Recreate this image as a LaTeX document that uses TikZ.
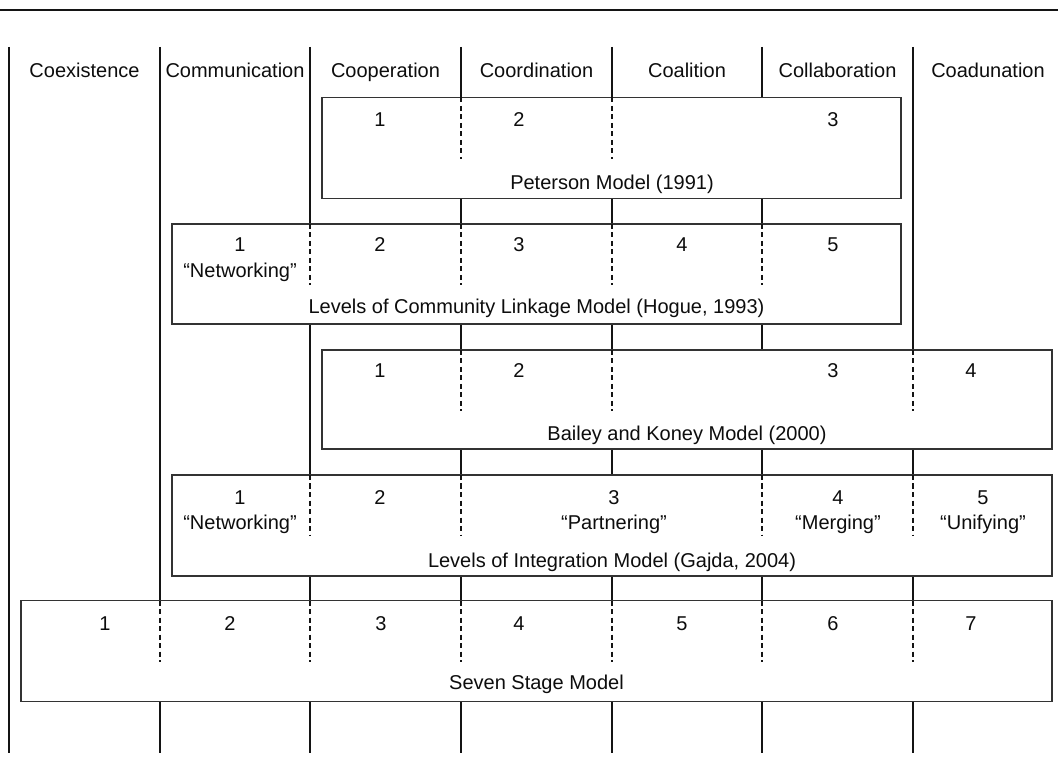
\documentclass[tikz,border=0pt]{standalone}
\usepackage{fontspec}
\setmainfont{Liberation Sans}
\begin{document}
\begin{tikzpicture}[x=1pt,y=-1pt,
  ink/.style={color=black!92},
  colline/.style={ink,draw,line width=2.6pt},
  topline/.style={ink,draw,line width=1.6pt},
  box/.style={draw=black!80,fill=white,line width=1.4pt,inner sep=0pt,outer sep=0pt,anchor=north west},
  divider/.style={ink,draw,line width=2.6pt,dash pattern=on 5pt off 3.5pt},
  lbl/.style={text=black!95,font=\fontsize{20}{22}\selectfont,anchor=base,inner sep=0pt}]
\useasboundingbox (0,0) rectangle (1058,783);
% column positions
\coordinate (c1) at (9,47);
\coordinate (c2) at (160,47);
\coordinate (c3) at (310,47);
\coordinate (c4) at (461,47);
\coordinate (c5) at (612,47);
\coordinate (c6) at (762,47);
\coordinate (c7) at (913,47);
\coordinate (bot) at (0,753);
\coordinate (tl) at (0,10);
\coordinate (tr) at (1058,10);
\draw[topline] (tl) -- (tr);
\foreach \c in {c1,c2,c3,c4,c5,c6,c7} \draw[colline] (\c) -- (\c |- bot);
% headers
\node[lbl] (h1) at (84.5,77.5) {Coexistence};
\node[lbl] (h2) at (235,77.5) {Communication};
\node[lbl] (h3) at (385.5,77.5) {Cooperation};
\node[lbl] (h4) at (536.5,77.5) {Coordination};
\node[lbl] (h5) at (687,77.5) {Coalition};
\node[lbl] (h6) at (837.5,77.5) {Collaboration};
\node[lbl] (h7) at (988,77.5) {Coadunation};
% Peterson
\node[box,minimum width=579pt,minimum height=101pt] (pet) at (322,97.5) {};
\draw[divider] (c4 |- pet.north) -- ++(0,62);
\draw[divider] (c5 |- pet.north) -- ++(0,62);
\node[lbl] (p1) at (380,127) {1};
\node[lbl] (p2) at (519,127) {2};
\node[lbl] (p3) at (833,127) {3};
\node[lbl] (pl) at (612,190) {Peterson Model (1991)};
% Hogue
\node[box,minimum width=729pt,minimum height=100pt] (hog) at (172,224) {};
\foreach \c in {c3,c4,c5,c6} \draw[divider] (\c |- hog.north) -- ++(0,61);
\node[lbl] (g1) at (240,252) {1};
\node[lbl] (g1b) at (240,278) {“Networking”};
\node[lbl] (g2) at (380,252) {2};
\node[lbl] (g3) at (519,252) {3};
\node[lbl] (g4) at (682,252) {4};
\node[lbl] (g5) at (833,252) {5};
\node[lbl] (gl) at (536.5,314) {Levels of Community Linkage Model (Hogue, 1993)};
% Bailey and Koney
\node[box,minimum width=730pt,minimum height=99pt] (bai) at (322,350) {};
\foreach \c in {c4,c5,c7} \draw[divider] (\c |- bai.north) -- ++(0,61);
\node[lbl] (b1) at (380,378) {1};
\node[lbl] (b2) at (519,378) {2};
\node[lbl] (b3) at (833,378) {3};
\node[lbl] (b4) at (971,378) {4};
\node[lbl] (bl) at (687,441) {Bailey and Koney Model (2000)};
% Gajda
\node[box,minimum width=880pt,minimum height=101pt] (gaj) at (172,475) {};
\foreach \c in {c3,c4,c6,c7} \draw[divider] (\c |- gaj.north) -- ++(0,61);
\node[lbl] (j1) at (240,504) {1};
\node[lbl] (j1b) at (240,529) {“Networking”};
\node[lbl] (j2) at (380,504) {2};
\node[lbl] (j3) at (614,504) {3};
\node[lbl] (j3b) at (614,529) {“Partnering”};
\node[lbl] (j4) at (838,504) {4};
\node[lbl] (j4b) at (838,529) {“Merging”};
\node[lbl] (j5) at (983,504) {5};
\node[lbl] (j5b) at (983,529) {“Unifying”};
\node[lbl] (jl) at (612,567) {Levels of Integration Model (Gajda, 2004)};
% Seven Stage
\node[box,minimum width=1031pt,minimum height=101pt] (sev) at (21,600.5) {};
\foreach \c in {c2,c3,c4,c5,c6,c7} \draw[divider] (\c |- sev.north) -- ++(0,61);
\node[lbl] (s1) at (105,630) {1};
\node[lbl] (s2) at (230,630) {2};
\node[lbl] (s3) at (381,630) {3};
\node[lbl] (s4) at (519,630) {4};
\node[lbl] (s5) at (682,630) {5};
\node[lbl] (s6) at (833,630) {6};
\node[lbl] (s7) at (971,630) {7};
\node[lbl] (sl) at (536.5,689) {Seven Stage Model};
\end{tikzpicture}
\end{document}
